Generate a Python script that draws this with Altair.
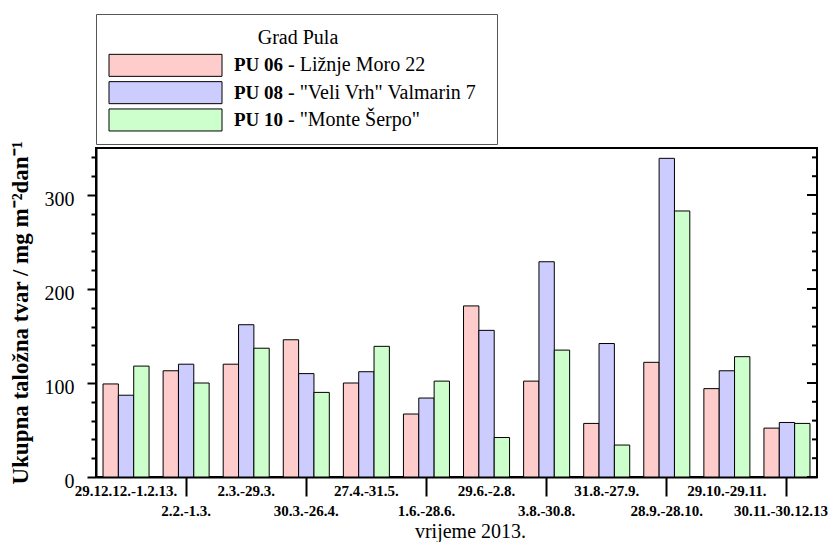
import altair as alt
import pandas as pd

periods = ["29.12.12.-1.2.13.", "2.2.-1.3.", "2.3.-29.3.", "30.3.-26.4.", "27.4.-31.5.",
           "1.6.-28.6.", "29.6.-2.8.", "3.8.-30.8.", "31.8.-27.9.", "28.9.-28.10.",
           "29.10.-29.11.", "30.11.-30.12.13"]
series = ["PU 06", "PU 08", "PU 10"]
descs = ["- Ližnje Moro 22", '- "Veli Vrh" Valmarin 7', '- "Monte Šerpo"']
pu06 = [99, 113, 120, 146, 100, 67, 182, 102, 57, 122, 94, 52]
pu08 = [87, 120, 162, 110, 112, 84, 156, 229, 142, 339, 113, 58]
pu10 = [118, 100, 137, 90, 139, 102, 42, 135, 34, 283, 128, 57]
colors = ["#FFCCCC", "#CCCCFF", "#CCFFCC"]
legend_title = "Grad Pula"
y_ticks = list(range(0, 341, 20))
x_title = "vrijeme 2013."
y_title = "Ukupna taložna tvar / mg m⁻²dan⁻¹"

rows = []
for s, vals in zip(series, [pu06, pu08, pu10]):
    for p, v in zip(periods, vals):
        rows.append({"period": p, "series": s, "value": v})
df = pd.DataFrame(rows)
tick_df = pd.DataFrame({"v": y_ticks})

FONT = "Liberation Serif"
color_scale = alt.Scale(domain=series, range=colors)
odd_test = "indexof(" + str(periods[1::2]) + ", datum.value) >= 0"
last_test = "datum.value == '" + periods[-1] + "'"
major_test = "datum.value % 100 == 0"

x_axis = alt.Axis(
    title=x_title, labelAngle=0,
    labelFont=FONT, labelFontSize=15, labelFontWeight="bold", labelColor="black",
    labelPadding={"condition": {"test": odd_test, "value": 7}, "value": -13},
    labelOffset={"condition": {"test": last_test, "value": -6}, "value": 0},
    labelOverlap=False,
    tickSize=19, tickWidth=2, tickColor="black",
    tickOpacity={"condition": {"test": odd_test, "value": 1}, "value": 0},
    domainColor="black", domainWidth=2,
    titleFont=FONT, titleFontSize=20, titleFontWeight="normal", titleColor="black",
    titleX=374, titleY=54, titleBaseline="middle", titleAlign="center",
)
x_enc = alt.X("period:N", sort=periods,
              scale=alt.Scale(paddingInner=0.234, paddingOuter=0.117), axis=x_axis)

tick_size = {"condition": {"test": major_test, "value": 9}, "value": 5}
y_axis = alt.Axis(
    title=y_title, values=y_ticks,
    labelExpr="datum.value % 100 == 0 ? datum.label : ''",
    labelFont=FONT, labelFontSize=20, labelColor="black", labelPadding=13, labelOffset=4,
    tickSize=tick_size, tickWidth=2, tickColor="black",
    domainColor="black", domainWidth=2, grid=False,
    titleFont=FONT, titleFontSize=23, titleFontWeight="bold", titleColor="black",
    titlePadding=12,
)
y_scale = alt.Scale(domain=[0, 350], nice=False)

bars = alt.Chart(df).mark_bar(stroke="black", strokeWidth=1).encode(
    x=x_enc,
    xOffset=alt.XOffset("series:N", sort=series, scale=alt.Scale(paddingInner=0, paddingOuter=0)),
    y=alt.Y("value:Q", scale=y_scale, axis=y_axis),
    color=alt.Color("series:N", scale=color_scale, legend=None),
)
# inward ticks on the right frame (clipped half of a centred tick)
inner = alt.Chart(tick_df).transform_calculate(
    len="datum.v % 100 == 0 ? 20 : 10"
).mark_tick(color="black", thickness=2, clip=True, opacity=1).encode(
    x=alt.value("width"),
    y=alt.Y("v:Q", scale=y_scale, axis=None),
    size=alt.Size("len:Q", scale=None, legend=None),
)
main = alt.layer(bars, inner).resolve_axis(y="independent").properties(
    width=721, height=329, view=alt.ViewBackground(stroke="black", strokeWidth=2)
)

leg_rows = [legend_title] + series
leg_df = pd.DataFrame({"row": series, "series": series, "desc": descs})
title_df = pd.DataFrame({"row": [legend_title]})
y_leg = alt.Y("row:N", sort=leg_rows,
              scale=alt.Scale(domain=leg_rows, paddingInner=0.194, paddingOuter=0.477), axis=None)

leg_rect = alt.Chart(leg_df).mark_rect(stroke="black", strokeWidth=1).encode(
    x=alt.value(13), x2=alt.value(126), y=y_leg,
    color=alt.Color("series:N", scale=color_scale, legend=None),
)
leg_code = alt.Chart(leg_df).mark_text(
    align="left", baseline="middle", font=FONT, fontSize=19, fontWeight="bold", color="black"
).encode(x=alt.value(138), y=y_leg, text="series:N")
leg_desc = alt.Chart(leg_df).mark_text(
    align="left", baseline="middle", font=FONT, fontSize=20, color="black"
).encode(x=alt.value(192), y=y_leg, text="desc:N")
leg_title = alt.Chart(title_df).mark_text(
    align="center", baseline="middle", font=FONT, fontSize=20, color="black"
).encode(x=alt.value(202), y=y_leg, text="row:N")

legend = alt.layer(leg_rect, leg_code, leg_desc, leg_title).properties(
    width=401, height=130, view=alt.ViewBackground(stroke="#555555", strokeWidth=1)
)

chart = alt.vconcat(legend, main, spacing=4).properties(
    bounds="flush", padding={"left": 0, "top": 5, "right": 0, "bottom": 2}
).configure(background="white")

chart.save("out.html", embed_options={"renderer": "svg", "actions": False})
